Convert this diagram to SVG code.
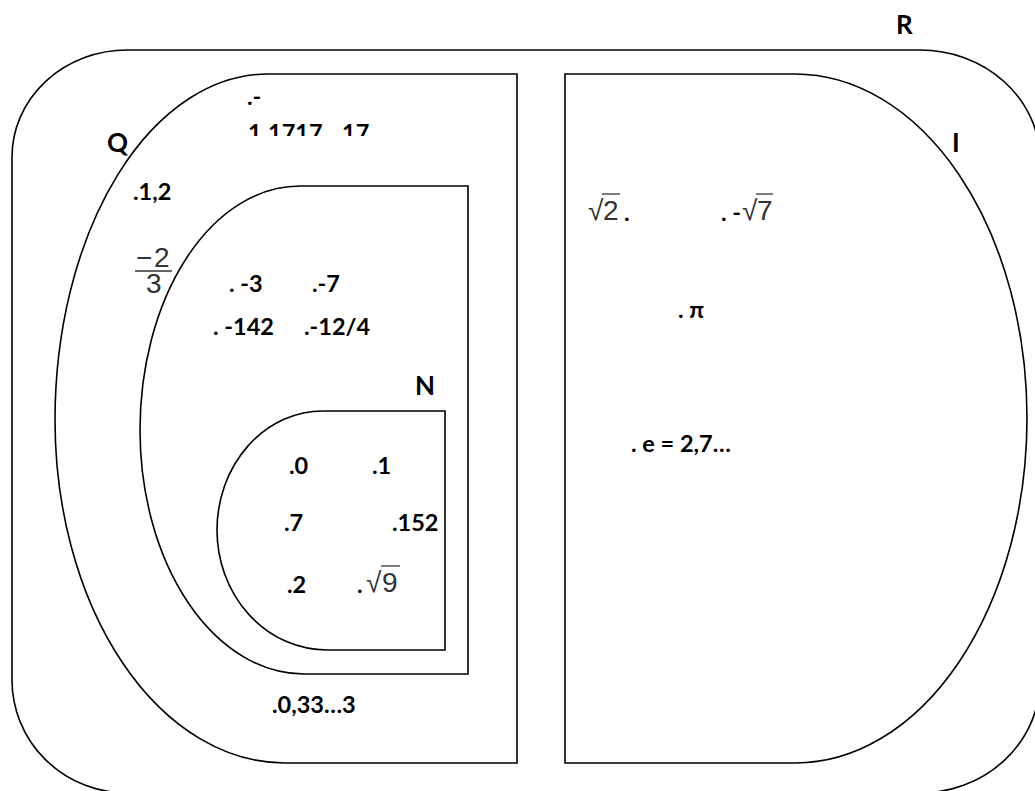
<svg xmlns="http://www.w3.org/2000/svg" width="1035" height="791" viewBox="0 0 1035 791">
<style>
.shape{fill:none;stroke:#000;stroke-width:1.6}
.lbl{font-family:Lato,"Liberation Sans",sans-serif;font-weight:bold;font-size:26px;fill:#000}
.num{font-family:Lato,"Liberation Sans",sans-serif;font-weight:bold;font-size:23.5px;fill:#000}
.math{font-family:"Liberation Sans",Arial,sans-serif;font-size:28px;fill:#333}
.frac{font-family:"Liberation Sans",Arial,sans-serif;font-size:28px;fill:#333}
.bar{stroke:#333;stroke-width:1.3}
</style>
<defs>
<clipPath id="clipRow"><rect x="240" y="110" width="140" height="26"/></clipPath>
</defs>
<rect width="1035" height="791" fill="#fff"/>
<g id="R">
<path class="shape" d="M127,50 H920 A120,110 0 0 1 1040,160 V680 A120,113 0 0 1 920,793 H127 A115,113 0 0 1 12,680 V157 A115,107 0 0 1 127,50 Z"/>
<text class="lbl" x="896" y="34">R</text>
</g>
<g id="Q">
<path class="shape" d="M517,74 H268 A213,346 0 0 0 55,420 A230,343 0 0 0 285,763 H517 Z"/>
<text class="lbl" x="107" y="152">Q</text>
<text class="num" x="247" y="105">.-</text>
<text class="num" clip-path="url(#clipRow)" y="141"><tspan x="248">1</tspan> <tspan x="268">1717</tspan> <tspan x="342">17</tspan></text>
<text class="num" x="133" y="200">.1,2</text>
<text class="frac"><tspan x="136" y="267">−</tspan><tspan x="154" y="267">2</tspan><tspan x="146" y="293">3</tspan></text>
<line class="bar" x1="135" y1="271" x2="172" y2="271"/>
<text class="num" x="272" y="713">.0,33…3</text>
</g>
<g id="Z">
<path class="shape" d="M468,186 H300 A160,244 0 0 0 140,430 A164,244 0 0 0 304,674 H468 Z"/>
<text class="num" x="229" y="292">. -3</text>
<text class="num" x="312" y="292">.-7</text>
<text class="num" x="213" y="335">. -142</text>
<text class="num" x="304" y="335">.-12/4</text>
</g>
<g id="N">
<path class="shape" d="M445,411 H323 A106,119 0 0 0 217,530 A110,120 0 0 0 327,650 H445 Z"/>
<text class="lbl" x="415" y="395">N</text>
<text class="num" x="289" y="474">.0</text>
<text class="num" x="372" y="474">.1</text>
<text class="num" x="284" y="531">.7</text>
<text class="num" x="392" y="531">.152</text>
<text class="num" x="287" y="593">.2</text>
<text class="num" x="357" y="593">.</text>
<text class="math" x="366" y="592">√<tspan x="382">9</tspan></text>
<line class="bar" x1="381" y1="566" x2="400" y2="566"/>
</g>
<g id="I">
<path class="shape" d="M565,74 H795 A232,344 0 0 1 1027,418 A232,345 0 0 1 795,763 H565 Z"/>
<text class="lbl" x="952" y="152">I</text>
<text class="math" x="588" y="220">√<tspan x="603">2</tspan></text>
<line class="bar" x1="602" y1="194" x2="620" y2="194"/>
<text class="num" x="624" y="221">.</text>
<text class="num" x="721" y="221">. -</text>
<text class="math" x="742" y="220">√<tspan x="757">7</tspan></text>
<line class="bar" x1="756" y1="194" x2="773" y2="194"/>
<text class="num" x="678" y="318">. π</text>
<text class="num" x="631" y="452">. e = 2,7…</text>
</g>
<g id="connectors"></g>
</svg>
